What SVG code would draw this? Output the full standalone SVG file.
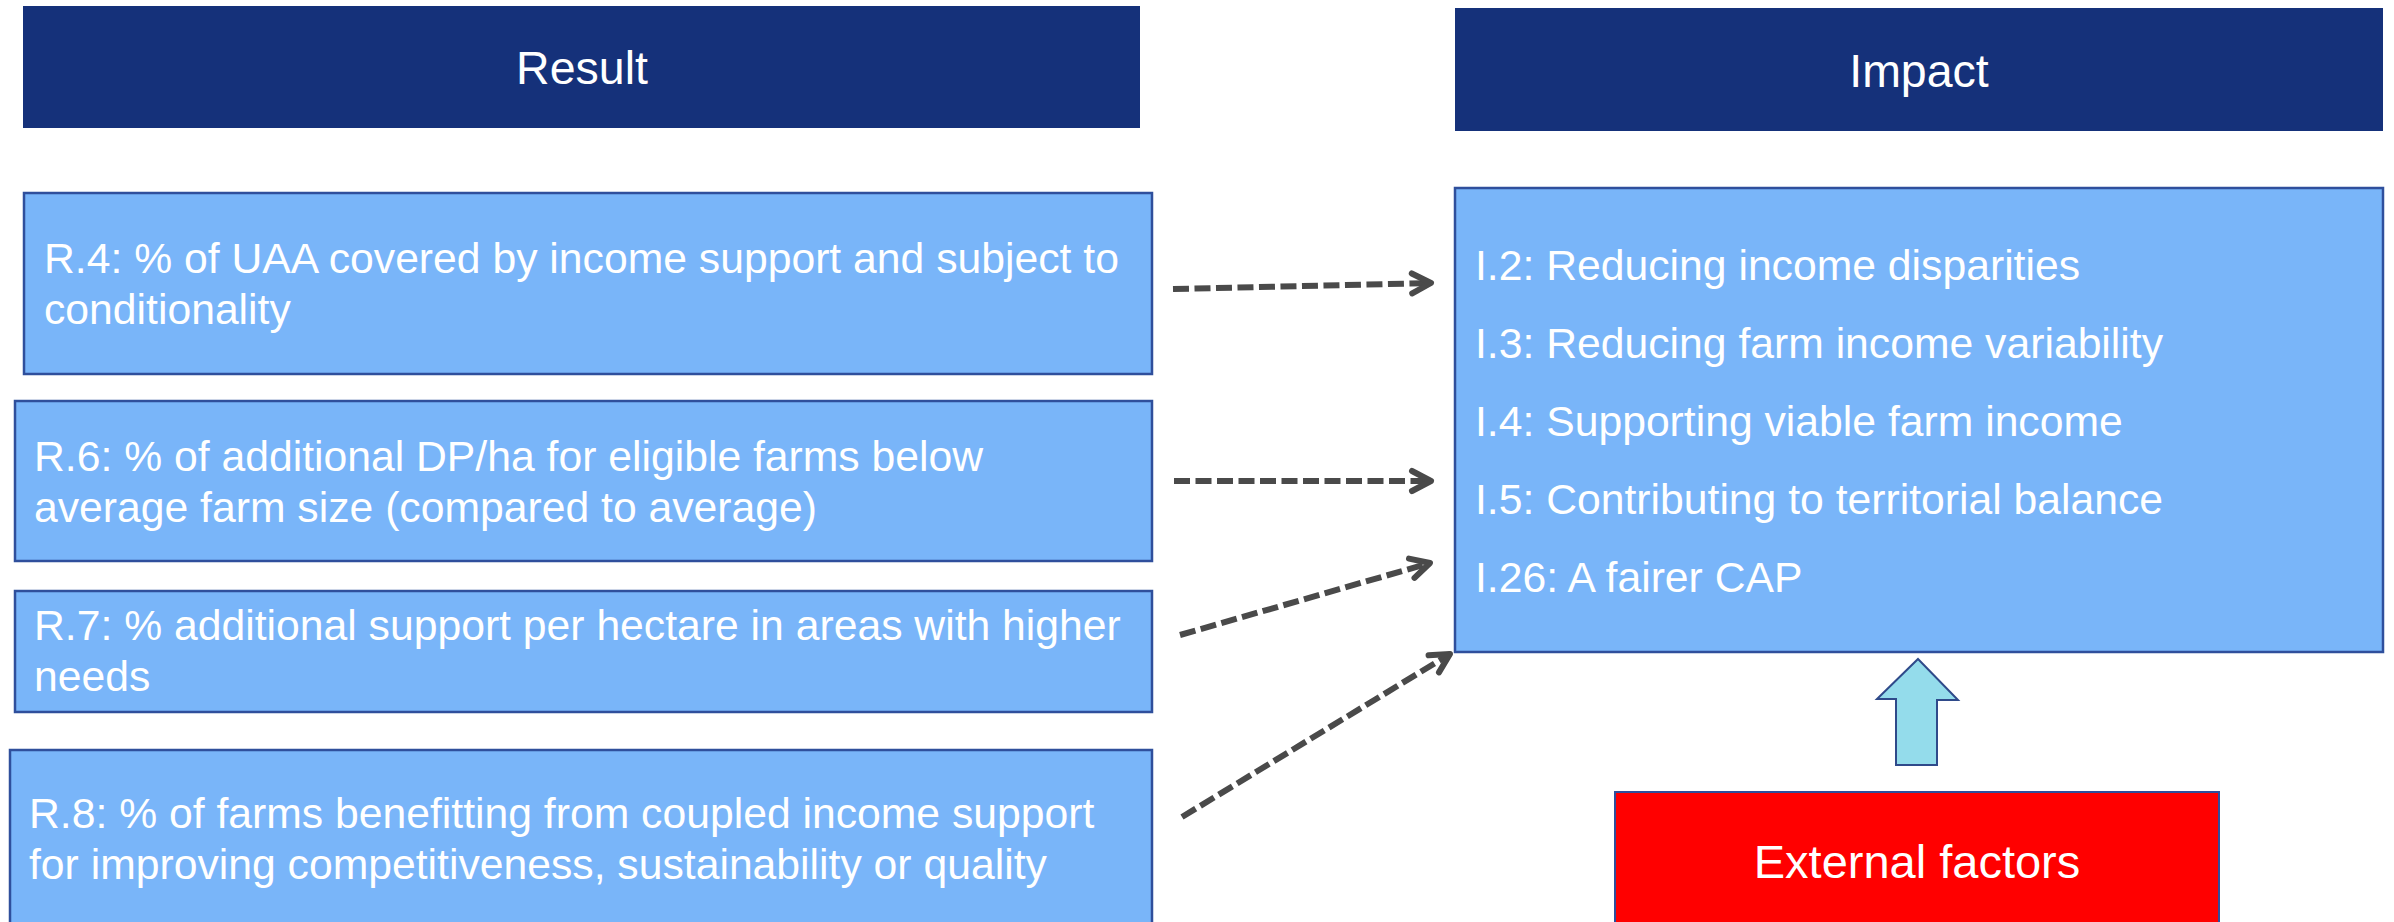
<svg xmlns="http://www.w3.org/2000/svg" width="2394" height="922" viewBox="0 0 2394 922">
  <style>
    .hdr { fill: #15317A; }
    .hdr-txt { font-family: "Liberation Sans", Arial, sans-serif; font-size: 46.5px; fill: #FFFFFF; text-anchor: middle; }
    .box { fill: #79B5F9; stroke: #2F4F9C; stroke-width: 2.5; }
    .txt { font-family: "Liberation Sans", Arial, sans-serif; font-size: 42.7px; fill: #FFFFFF; }
    .ext { fill: #FF0000; stroke: #2F4F9C; stroke-width: 2; }
    .ext-txt { font-family: "Liberation Sans", Arial, sans-serif; font-size: 47px; fill: #FFFFFF; text-anchor: middle; }
    .link { fill: none; stroke: #4A4A4A; stroke-width: 6; stroke-dasharray: 16 5.5; marker-end: url(#chev); }
    .block { fill: #94DCEB; stroke: #2F4A8A; stroke-width: 2; stroke-linejoin: miter; }
  </style>
  <defs>
    <marker id="chev" markerUnits="userSpaceOnUse" viewBox="-26 -16 30 32" refX="0" refY="0" markerWidth="30" markerHeight="32" orient="auto" overflow="visible">
      <path d="M-19,-10 L0,0 L-19,10" fill="none" stroke="#4A4A4A" stroke-width="6" stroke-linecap="round" stroke-linejoin="round"/>
    </marker>
  </defs>

  <rect width="2394" height="922" fill="#FFFFFF"/>

  <!-- column headers -->
  <g id="result-header">
    <rect class="hdr" x="23" y="6" width="1117" height="122"/>
    <text class="hdr-txt" x="582" y="84">Result</text>
  </g>
  <g id="impact-header">
    <rect class="hdr" x="1455" y="8" width="928" height="123"/>
    <text class="hdr-txt" x="1919" y="87">Impact</text>
  </g>

  <!-- result indicators -->
  <g id="r4">
    <rect class="box" x="24" y="193" width="1128" height="181"/>
    <text class="txt" x="44" y="273">R.4: % of UAA covered by income support and subject to</text>
    <text class="txt" x="44" y="324">conditionality</text>
  </g>
  <g id="r6">
    <rect class="box" x="15" y="401" width="1137" height="160"/>
    <text class="txt" x="34" y="471">R.6: % of additional DP/ha for eligible farms below</text>
    <text class="txt" x="34" y="522">average farm size (compared to average)</text>
  </g>
  <g id="r7">
    <rect class="box" x="15" y="591" width="1137" height="121"/>
    <text class="txt" x="34" y="640">R.7: % additional support per hectare in areas with higher</text>
    <text class="txt" x="34" y="691">needs</text>
  </g>
  <g id="r8">
    <rect class="box" x="10" y="750" width="1142" height="190"/>
    <text class="txt" x="29" y="828">R.8: % of farms benefitting from coupled income support</text>
    <text class="txt" x="29" y="879">for improving competitiveness, sustainability or quality</text>
  </g>

  <!-- impact indicators -->
  <g id="impacts">
    <rect class="box" x="1455" y="188" width="928" height="464"/>
    <text class="txt" x="1475" y="280">I.2: Reducing income disparities</text>
    <text class="txt" x="1475" y="358">I.3: Reducing farm income variability</text>
    <text class="txt" x="1475" y="436">I.4: Supporting viable farm income</text>
    <text class="txt" x="1475" y="514">I.5: Contributing to territorial balance</text>
    <text class="txt" x="1475" y="592">I.26: A fairer CAP</text>
  </g>

  <!-- external factors -->
  <g id="external">
    <rect class="ext" x="1615" y="792" width="604" height="150"/>
    <text class="ext-txt" x="1917" y="878">External factors</text>
  </g>

  <!-- connectors -->
  <g id="connectors">
    <line class="link" x1="1173" y1="289" x2="1431" y2="283"/>
    <line class="link" x1="1174" y1="481" x2="1431" y2="481"/>
    <line class="link" x1="1180" y1="635" x2="1430" y2="563"/>
    <line class="link" x1="1182" y1="817" x2="1450" y2="654"/>
    <polygon class="block" points="1918,659 1958,700 1937,700 1937,765 1896,765 1896,699 1877,699"/>
  </g>
</svg>
